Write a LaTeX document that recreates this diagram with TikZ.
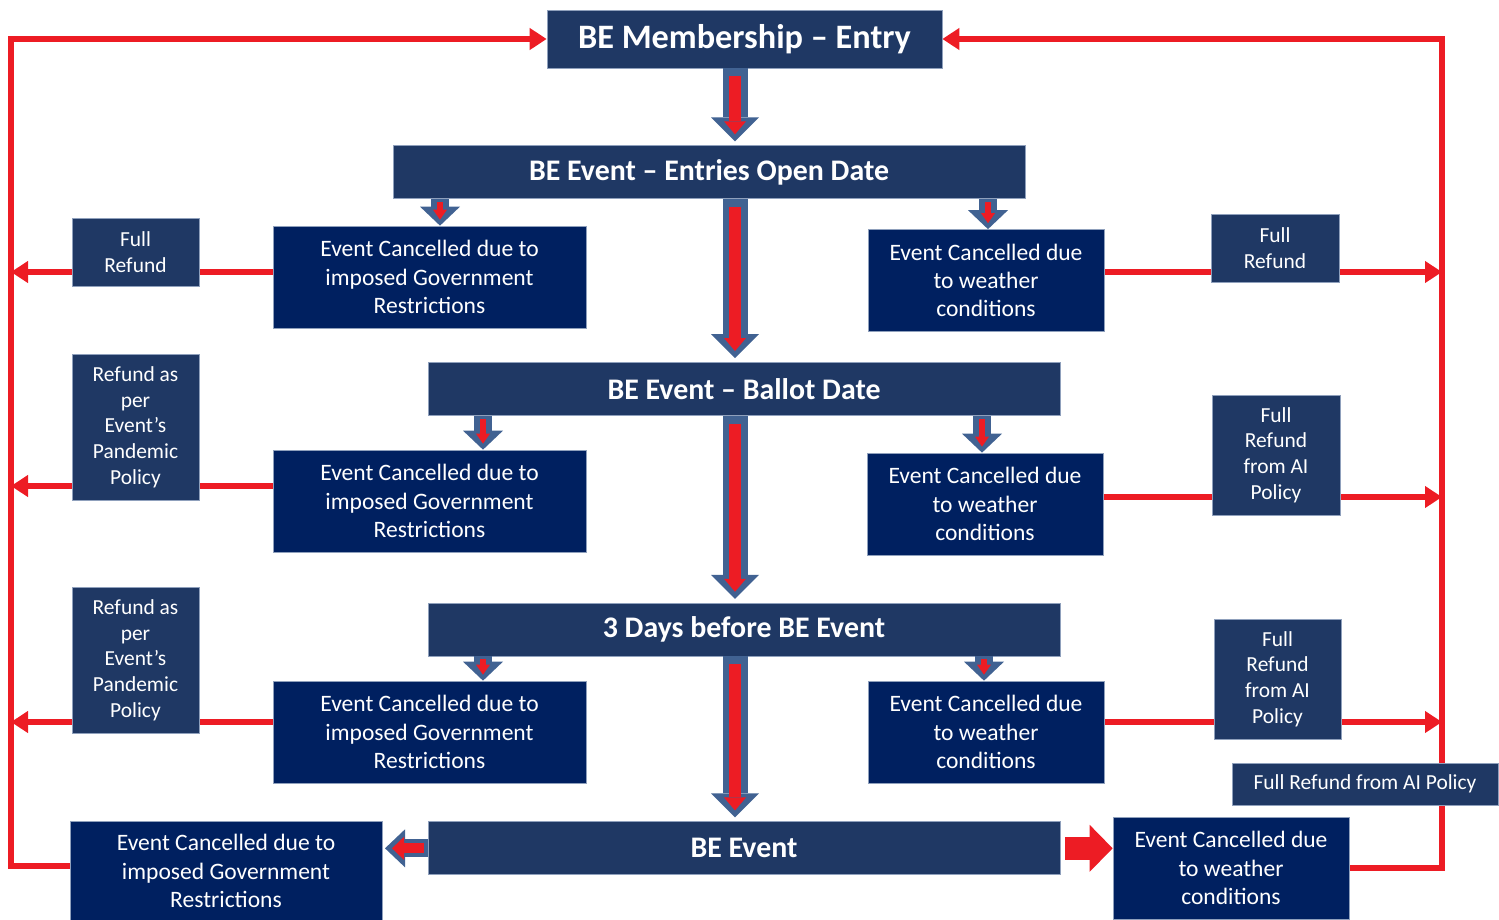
\documentclass[tikz,border=0pt]{standalone}
\usepackage{fontspec}
\setmainfont{Carlito}
\usepackage{tikz}
\usetikzlibrary{arrows.meta, positioning, backgrounds}
\definecolor{slatecolor}{RGB}{31,56,100}
\definecolor{navycolor}{RGB}{0,32,96}
\definecolor{redcolor}{RGB}{237,28,36}
\definecolor{steelcolor}{RGB}{65,98,146}
\definecolor{edgecolor}{RGB}{143,160,188}

\begin{document}
\begin{tikzpicture}[
    node distance=1cm,
    title/.style={rectangle, fill=slatecolor, draw=edgecolor, line width=0.4pt, text=white, minimum width=7.9cm, minimum height=1.16cm, font=\fontsize{19.5}{23}\selectfont\bfseries},
    stage/.style={rectangle, fill=slatecolor, draw=edgecolor, line width=0.4pt, text=white, minimum width=12.64cm, minimum height=1.06cm, font=\fontsize{17}{20}\selectfont\bfseries},
    govbox/.style={rectangle, fill=navycolor, draw=edgecolor, line width=0.4pt, text=white, align=center, minimum width=6.26cm, minimum height=2.04cm, font=\fontsize{13.4}{16}\selectfont},
    wxbox/.style={govbox, minimum width=4.72cm},
    refund/.style={rectangle, fill=slatecolor, draw=edgecolor, line width=0.4pt, text=white, align=center, minimum width=2.54cm, font=\fontsize{12.2}{14.6}\selectfont},
    redline/.style={draw=redcolor, line width=0.11cm},
    redarrow/.style={redline, -{Triangle[length=0.34cm, width=0.42cm]}},
    bigout/.style={draw=steelcolor, line width=0.5cm, -{Triangle[length=0.48cm, width=0.96cm, line width=0pt]}, shorten >=0.08cm},
    bigin/.style={draw=redcolor, line width=0.24cm, -{Triangle[length=0.26cm, width=0.44cm, line width=0pt]}, shorten >=0.22cm, shorten <=0.16cm},
    smallout/.style={draw=steelcolor, line width=0.36cm, -{Triangle[length=0.38cm, width=0.8cm, line width=0pt]}},
    smallin/.style={draw=redcolor, line width=0.12cm, -{Triangle[length=0.2cm, width=0.28cm, line width=0pt]}, shorten >=0.12cm, shorten <=0.06cm},
    sideout/.style={draw=steelcolor, line width=0.36cm, -{Triangle[length=0.4cm, width=0.76cm, line width=0pt]}},
    sidein/.style={draw=redcolor, line width=0.2cm, -{Triangle[length=0.24cm, width=0.46cm, line width=0pt]}, shorten >=0.14cm, shorten <=0.08cm},
    pushright/.style={draw=redcolor, line width=0.46cm, -{Triangle[length=0.46cm, width=0.94cm, line width=0pt]}},
]
\useasboundingbox (0,0) rectangle (29.98,-18.38);

% main stages
\node[title] (mem) at (14.89,-0.78) {BE Membership – Entry};
\node[stage, below=1.54cm of mem, xshift=-0.71cm] (open) {BE Event – Entries Open Date};
\node[stage, below=3.26cm of open, xshift=0.7cm] (ballot) {BE Event – Ballot Date};
\node[stage, below=3.74cm of ballot] (three) {3 Days before BE Event};
\node[stage, below=3.3cm of three] (event) {BE Event};

% cancellations
\node[govbox] (lc1) at (8.59,-5.54) {Event Cancelled due to\\imposed Government\\Restrictions};
\node[wxbox] (rc1) at (19.72,-5.61) {Event Cancelled due\\to weather\\conditions};
\node[govbox] (lc2) at (8.59,-10.02) {Event Cancelled due to\\imposed Government\\Restrictions};
\node[wxbox] (rc2) at (19.70,-10.08) {Event Cancelled due\\to weather\\conditions};
\node[govbox] (lc3) at (8.59,-14.64) {Event Cancelled due to\\imposed Government\\Restrictions};
\node[wxbox] (rc3) at (19.72,-14.64) {Event Cancelled due\\to weather\\conditions};
\node[govbox, minimum width=6.24cm, minimum height=2.0cm] (lc4) at (4.52,-17.42) {Event Cancelled due to\\imposed Government\\Restrictions};
\node[wxbox] (rc4) at (24.62,-17.36) {Event Cancelled due\\to weather\\conditions};

% refunds
\node[refund, minimum height=1.36cm] (fl1) at (2.71,-5.04) {Full\\Refund};
\node[refund, minimum height=1.36cm, minimum width=2.56cm] (fr1) at (25.5,-4.96) {Full\\Refund};
\node[refund, minimum height=2.92cm] (fl2) at (2.71,-8.54) {Refund as\\per\\Event’s\\Pandemic\\Policy};
\node[refund, minimum height=2.4cm, minimum width=2.56cm] (fr2) at (25.52,-9.10) {Full\\Refund\\from AI\\Policy};
\node[refund, minimum height=2.92cm] (fl3) at (2.71,-13.20) {Refund as\\per\\Event’s\\Pandemic\\Policy};
\node[refund, minimum height=2.4cm] (fr3) at (25.55,-13.58) {Full\\Refund\\from AI\\Policy};
\node[refund, minimum width=5.32cm, minimum height=0.84cm] (frw) at (27.30,-15.68) {Full Refund from AI Policy};

\coordinate (lft) at (0.22,-0.78);
\coordinate (rgt) at (28.84,-0.78);

% red return loops
\begin{scope}[on background layer]
\draw[redarrow] ([yshift=0.1cm]lc4.west) -| (lft) -- (mem.west);
\draw[redarrow] (rc4.east) -| (rgt) -- (mem.east);

\draw[redline] (0,-5.44 -| lc1.west) -- (0,-5.44 -| fl1.east);
\draw[redarrow] (0,-5.44 -| fl1.west) -- (0,-5.44 -| lft);
\draw[redline] (0,-9.72 -| lc2.west) -- (0,-9.72 -| fl2.east);
\draw[redarrow] (0,-9.72 -| fl2.west) -- (0,-9.72 -| lft);
\draw[redline] (0,-14.44 -| lc3.west) -- (0,-14.44 -| fl3.east);
\draw[redarrow] (0,-14.44 -| fl3.west) -- (0,-14.44 -| lft);

\draw[redline] (0,-5.44 -| rc1.east) -- (0,-5.44 -| fr1.west);
\draw[redarrow] (0,-5.44 -| fr1.east) -- (0,-5.44 -| rgt);
\draw[redline] (0,-9.94 -| rc2.east) -- (0,-9.94 -| fr2.west);
\draw[redarrow] (0,-9.94 -| fr2.east) -- (0,-9.94 -| rgt);
\draw[redline] (0,-14.44 -| rc3.east) -- (0,-14.44 -| fr3.west);
\draw[redarrow] (0,-14.44 -| fr3.east) -- (0,-14.44 -| rgt);
\end{scope}

% block arrows down the middle
\draw[bigout] (14.7,0 |- mem.south) -- (14.7,0 |- open.north);
\draw[bigin] (14.7,0 |- mem.south) -- (14.7,0 |- open.north);
\draw[bigout] (14.7,0 |- open.south) -- (14.7,0 |- ballot.north);
\draw[bigin] (14.7,0 |- open.south) -- (14.7,0 |- ballot.north);
\draw[bigout] (14.7,0 |- ballot.south) -- (14.7,0 |- three.north);
\draw[bigin] (14.7,0 |- ballot.south) -- (14.7,0 |- three.north);
\draw[bigout] (14.7,0 |- three.south) -- (14.7,0 |- event.north);
\draw[bigin] (14.7,0 |- three.south) -- (14.7,0 |- event.north);

% small arrows to the cancellations
\draw[smallout] (8.8,0 |- open.south) -- (8.8,0 |- lc1.north);
\draw[smallin] (8.8,0 |- open.south) -- (8.8,0 |- lc1.north);
\draw[smallout] (19.76,0 |- open.south) -- (19.76,0 |- rc1.north);
\draw[smallin] (19.76,0 |- open.south) -- (19.76,0 |- rc1.north);
\draw[smallout] (9.66,0 |- ballot.south) -- (9.66,0 |- lc2.north);
\draw[smallin] (9.66,0 |- ballot.south) -- (9.66,0 |- lc2.north);
\draw[smallout] (19.64,0 |- ballot.south) -- (19.64,0 |- rc2.north);
\draw[smallin] (19.64,0 |- ballot.south) -- (19.64,0 |- rc2.north);
\draw[smallout] (9.66,0 |- three.south) -- (9.66,0 |- lc3.north);
\draw[smallin] (9.66,0 |- three.south) -- (9.66,0 |- lc3.north);
\draw[smallout] (19.68,0 |- three.south) -- (19.68,0 |- rc3.north);
\draw[smallin] (19.68,0 |- three.south) -- (19.68,0 |- rc3.north);

% event day
\draw[sideout] (event.west) -- (7.7,0 |- event.west);
\draw[sidein] (event.west) -- (7.7,0 |- event.west);
\draw[pushright] ([xshift=0.1cm]event.east) -- (event.east -| rc4.west);

\end{tikzpicture}
\end{document}
